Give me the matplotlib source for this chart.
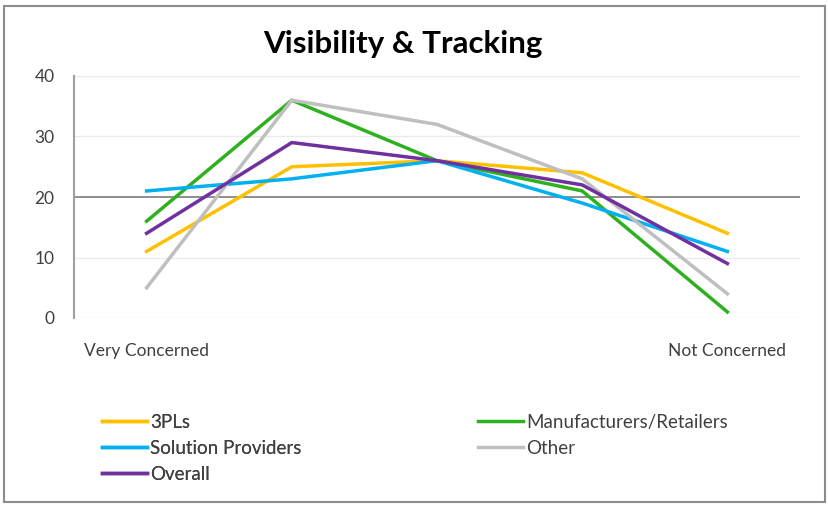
import matplotlib
matplotlib.use("Agg")
import matplotlib.pyplot as plt
from matplotlib.patches import Rectangle

categories = ["Very Concerned", "", "", "", "Not Concerned"]
series_names = ["3PLs", "Manufacturers/Retailers", "Solution Providers", "Other", "Overall"]
tpl = [11, 25, 26, 24, 14]
manuf = [16, 36, 26, 21, 1]
solution = [21, 23, 26, 19, 11]
other = [5, 36, 32, 23, 4]
overall = [14, 29, 26, 22, 9]
yticks = [0, 10, 20, 30, 40]
colors = ["#FFC000", "#2EB11E", "#00B0F0", "#BFBFBF", "#7030A0"]

plt.rcParams['font.family'] = ['Lato', 'DejaVu Sans']

fig = plt.figure(figsize=(8.29, 5.05), dpi=100)
fig.patches.append(Rectangle((4/829, 3/505), 821/829, 496/505, transform=fig.transFigure,
                             fill=False, edgecolor="#8C8C8C", linewidth=1.5))

ax = fig.add_axes([74/829, 1 - 318/505, 726/829, 242/505])
x = list(range(len(categories)))
data = [tpl, manuf, solution, other, overall]
lines = []
for name, vals, c in zip(series_names, data, colors):
    ln, = ax.plot(x, vals, color=c, linewidth=2.5, label=name, solid_joinstyle='round')
    lines.append(ln)

ax.set_xlim(-0.5, len(categories) - 0.5)
ax.set_ylim(0, 40)
ax.set_yticks(yticks)
ax.set_yticklabels([str(v) for v in yticks], fontsize=12.5, color="#404040")
for v in yticks:
    if v == 20:
        ax.axhline(v, color="#868686", linewidth=1.3, zorder=0.5)
    else:
        ax.axhline(v, color="#EBEBEB", linewidth=1.0, zorder=0.5)
ax.set_xticks([])
for i, lab in enumerate(categories):
    if lab:
        ax.annotate(lab, xy=(i, 0), xycoords='data', xytext=(0, -23.5), textcoords='offset points',
                    ha='center', va='center', fontsize=12.5, color="#404040", annotation_clip=False)
for s in ['top', 'right', 'bottom']:
    ax.spines[s].set_visible(False)
ax.spines['left'].set_color("#A0A0A0")
ax.spines['left'].set_linewidth(1.5)
ax.tick_params(axis='y', length=0, pad=14)

fig.text(403/829, 1 - 44/505, "Visibility & Tracking", ha='center', va='center',
         fontsize=22.5, fontweight='bold', color="#000000")

leg_kw = dict(frameon=False, fontsize=13.5, handlelength=2.4, handletextpad=0.15,
              labelspacing=0.47, borderpad=0, borderaxespad=0, labelcolor="#404040", loc='upper left')
left_idx = [0, 2, 4]
right_idx = [1, 3]
leg1 = fig.legend([lines[i] for i in left_idx], [series_names[i] for i in left_idx],
                  bbox_to_anchor=(102/829, 1 - 414/505), **leg_kw)
fig.add_artist(leg1)
leg2 = fig.legend([lines[i] for i in right_idx], [series_names[i] for i in right_idx],
                  bbox_to_anchor=(478/829, 1 - 414/505), **leg_kw)

fig.savefig("out.png", dpi=100)
